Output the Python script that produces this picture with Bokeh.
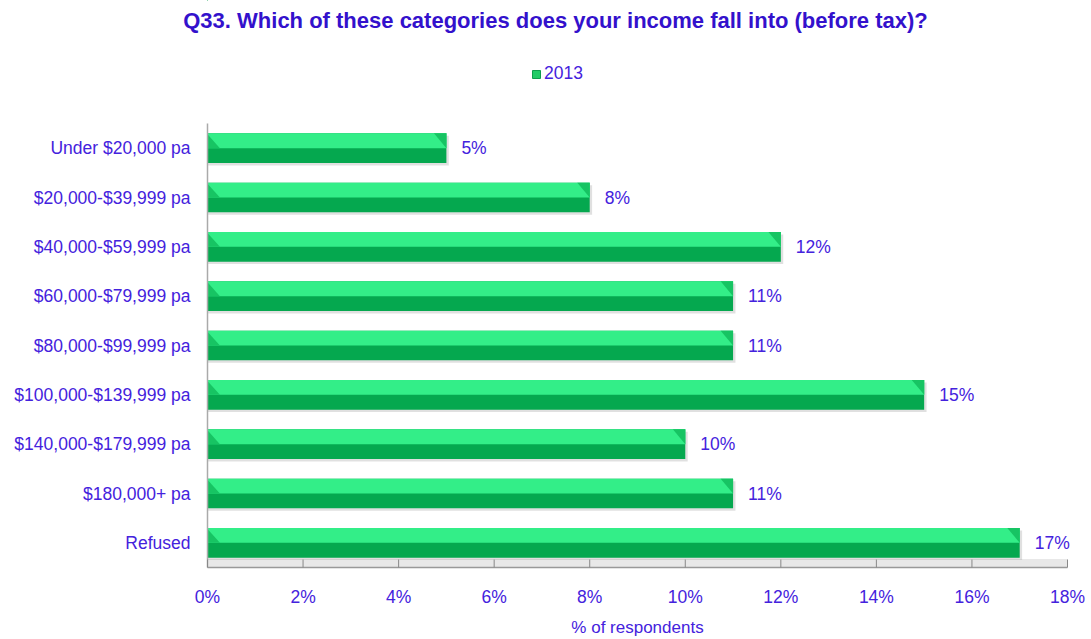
from bokeh.plotting import figure
from bokeh.models import Range1d, Label, Legend, LegendItem, ColumnDataSource, BoxAnnotation
from bokeh.core.properties import value
from bokeh.embed import file_html
from bokeh.resources import INLINE

categories = ["Under $20,000 pa", "$20,000-$39,999 pa", "$40,000-$59,999 pa",
              "$60,000-$79,999 pa", "$80,000-$99,999 pa", "$100,000-$139,999 pa",
              "$140,000-$179,999 pa", "$180,000+ pa", "Refused"]
values_2013 = [5, 8, 12, 11, 11, 15, 10, 11, 17]
x_ticks = [0, 2, 4, 6, 8, 10, 12, 14, 16, 18]
x_tick_labels = ["0%", "2%", "4%", "6%", "8%", "10%", "12%", "14%", "16%", "18%"]
series_name = "2013"
title_text = "Q33. Which of these categories does your income fall into (before tax)?"
x_label = "% of respondents"

TXT = "#4422DD"
TITLE = "#3311CC"
LIGHT = "#33EE88"
DARK = "#05A84F"
BEVEL = "#17C463"
FONT = "Liberation Sans"

W, H = 1085, 636
FL, FR, FT, FB = 207, 1067, 123, 567   # plot-area edges (px)
XMAX = 18

n = len(categories)
ys = list(range(n))
bar_h = 0.6
bevel = 0.26
unit_px = (FB - FT) / n
y_top = -0.5 - FT / unit_px
y_bot = n - 0.5 + (H - FB) / unit_px
x_unit_px = (FR - FL) / XMAX
x_left = -FL / x_unit_px
x_right = XMAX + (W - FR) / x_unit_px
base = n - 0.5

p = figure(width=W, height=H, output_backend="svg", toolbar_location=None,
           x_range=Range1d(x_left, x_right), y_range=Range1d(y_bot, y_top),
           min_border=0)
p.outline_line_color = None
p.grid.grid_line_color = None
p.axis.visible = False
p.background_fill_color = "white"
p.border_fill_color = "white"

# floor band
p.add_layout(BoxAnnotation(bottom=base - 0.17, top=base, left=0, right=XMAX,
                           fill_color="#E8E8E8", fill_alpha=1, line_color=None,
                           level="underlay"))

src = ColumnDataSource(dict(y=ys, v=values_2013,
                            ytop=[y - bar_h / 4 for y in ys],
                            ysh=[y + 0.05 for y in ys],
                            vsh=[v + 0.05 for v in values_2013],
                            lab=[f"{v}%" for v in values_2013],
                            cat=categories))

# shadow
p.hbar(y="ysh", left=0, right="vsh", height=bar_h, source=src,
       fill_color="#999999", fill_alpha=0.3, line_color=None)
# dark full bar
p.hbar(y="y", left=0, right="v", height=bar_h, source=src,
       fill_color=DARK, line_color=None)
# light top half
p.hbar(y="ytop", left=0, right="v", height=bar_h / 2, source=src,
       fill_color=LIGHT, line_color=None)

# bevels computed from data
lx, ly, rx, ry = [], [], [], []
for y, v in zip(ys, values_2013):
    top = y - bar_h / 2
    mid = y
    lx.append([0, bevel, 0])
    ly.append([top + 0.02, mid, mid])
    rx.append([v - bevel, v, v])
    ry.append([top, top, mid])
p.patches(lx, ly, fill_color=BEVEL, line_color=None)
p.patches(rx, ry, fill_color=BEVEL, line_color=None)

# y axis line (category axis)
p.segment(x0=[0], y0=[-0.5], x1=[0], y1=[base], line_color="#AAAAAA", line_width=1.5)

# category labels
p.text(x=0, y="y", text="cat", source=src, x_offset=-17,
       text_baseline="middle", text_align="right",
       text_font=value(FONT), text_font_size="17.5px", text_color=TXT)

# value labels
p.text(x="v", y="y", text="lab", source=src, x_offset=15,
       text_baseline="middle", text_align="left",
       text_font=value(FONT), text_font_size="17.5px", text_color=TXT)

# x axis: line, inward ticks, labels, title
tick_len = 8 / unit_px
p.segment(x0=[0], y0=[base], x1=[XMAX], y1=[base], line_color="#999999", line_width=1.5)
p.segment(x0=x_ticks, y0=[base] * len(x_ticks), x1=x_ticks,
          y1=[base - tick_len] * len(x_ticks), line_color="#888888", line_width=1)
p.text(x=x_ticks, y=[base] * len(x_ticks), text=x_tick_labels, y_offset=29,
       text_align="center", text_baseline="middle",
       text_font=value(FONT), text_font_size="17.5px", text_color=TXT)
p.text(x=[XMAX / 2], y=[base], text=[x_label], y_offset=60,
       text_align="center", text_baseline="middle",
       text_font=value(FONT), text_font_size="17px", text_color=TXT)

# title (screen units: x from left, y from bottom)
p.add_layout(Label(x=555, y=H - 20, x_units="screen", y_units="screen",
                   text=title_text, text_align="center", text_baseline="alphabetic",
                   text_font=FONT, text_font_style="bold",
                   text_font_size="22px", text_color=TITLE))

# legend
proxy = p.hbar(y=[-100], left=[0], right=[0], height=0.5,
               fill_color="#22CC66", line_color="#0E9E4C")
legend = Legend(items=[LegendItem(label=series_name, renderers=[proxy])],
                location=(531, H - 84), orientation="horizontal",
                glyph_width=10, glyph_height=10, label_standoff=3,
                label_text_font=FONT, label_text_font_size="17.5px",
                label_text_color=TXT, border_line_alpha=0,
                background_fill_alpha=0, padding=0, margin=0, spacing=0)
p.add_layout(legend, "center")

open("out.html", "w").write(file_html(p, INLINE))
